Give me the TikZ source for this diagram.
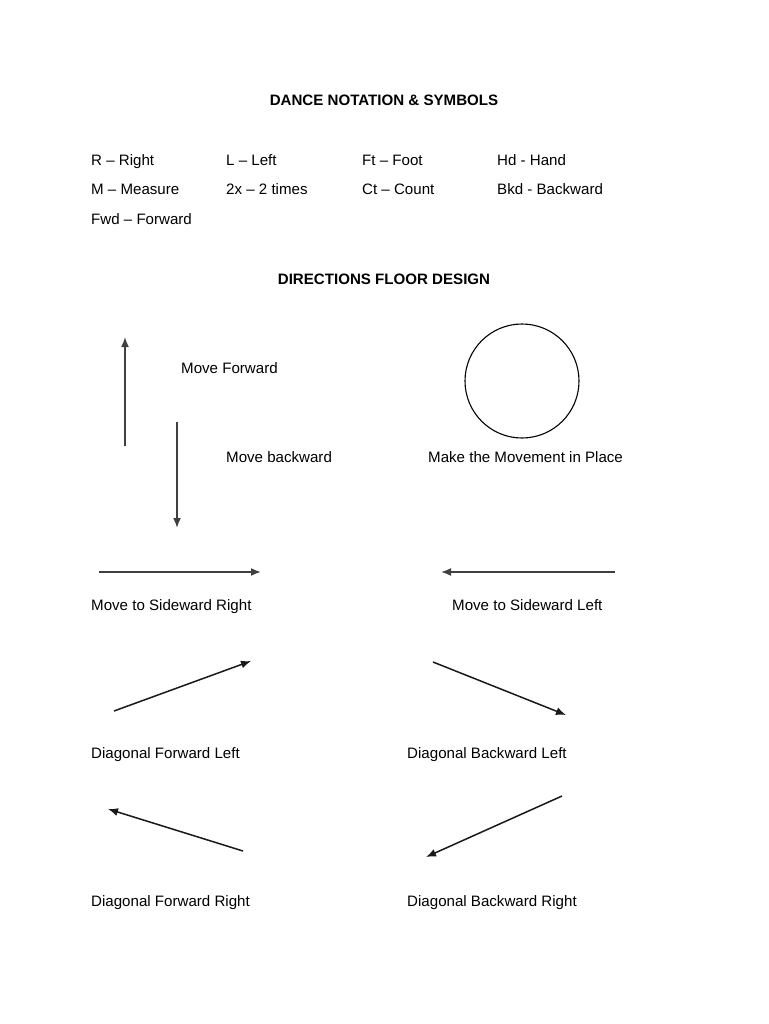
\documentclass[tikz,border=0pt]{standalone}
\usepackage{fontspec}
\setmainfont{Liberation Sans}
\usetikzlibrary{arrows.meta}
\usetikzlibrary{positioning}
\tikzset{
  label text/.style={anchor=base west, inner sep=0pt, font=\fontsize{15.1}{18}\selectfont},
  head text/.style={anchor=base, inner sep=0pt, font=\fontsize{15.1}{18}\selectfont\bfseries},
  move/.style={line width=1.7pt, draw=black!75, -{Latex[length=10pt,width=8pt]}},
  slant/.style={move, line width=1.5pt, draw=black!90},
}
\begin{document}
\begin{tikzpicture}[x=1pt, y=-1pt]
\useasboundingbox[fill=white] (0,0) rectangle (768,1024);
% headings
\node[head text] (title) at (384,106) {DANCE NOTATION \& SYMBOLS};
\node[head text] (floor) at (384,284) {DIRECTIONS FLOOR DESIGN};
% abbreviations
\node[label text] (r) at (91,166) {R -- Right};
\node[label text] (l) at (226,166) {L -- Left};
\node[label text] (ft) at (362,166) {Ft -- Foot};
\node[label text] (hd) at (497,166) {Hd - Hand};
\node[label text] (m) at (91,195) {M -- Measure};
\node[label text] (twox) at (226,195) {2x -- 2 times};
\node[label text] (ct) at (362,195) {Ct -- Count};
\node[label text] (bkd) at (497,195) {Bkd - Backward};
\node[label text] (fwd) at (91,225) {Fwd -- Forward};
% forward / backward
\coordinate (fwdA) at (125,446);
\coordinate (fwdB) at (125,337);
\draw[move] (fwdA) -- (fwdB);
\node[label text] (fwdtxt) at (181,373) {Move Forward};
\coordinate (bkdA) at (177,422);
\coordinate (bkdB) at (177,528);
\draw[move] (bkdA) -- (bkdB);
\node[label text] (bkdtxt) at (226,462) {Move backward};
% in place
\node[draw, circle, line width=1.1pt, minimum size=114pt, inner sep=0pt] (place) at (522,381) {};
\node[label text] (placetxt) at (428,462) {Make the Movement in Place};
% sideward
\coordinate (sideRA) at (99,572);
\coordinate (sideRB) at (261,572);
\draw[move] (sideRA) -- (sideRB);
\node[label text] (sideRtxt) at (91,610) {Move to Sideward Right};
\coordinate (sideLA) at (615,572);
\coordinate (sideLB) at (441,572);
\draw[move] (sideLA) -- (sideLB);
\node[label text] (sideLtxt) at (452,610) {Move to Sideward Left};
% diagonals
\coordinate (dfl1) at (114,711);
\coordinate (dfl2) at (251,661);
\draw[slant] (dfl1) -- (dfl2);
\node[label text] (dfltxt) at (91,758) {Diagonal Forward Left};
\coordinate (dbl1) at (433,662);
\coordinate (dbl2) at (566,715);
\draw[slant] (dbl1) -- (dbl2);
\node[label text] (dbltxt) at (407,758) {Diagonal Backward Left};
\coordinate (dfr1) at (243,851);
\coordinate (dfr2) at (108,809);
\draw[slant] (dfr1) -- (dfr2);
\node[label text] (dfrtxt) at (91,906) {Diagonal Forward Right};
\coordinate (dbr1) at (562,796);
\coordinate (dbr2) at (426,857);
\draw[slant] (dbr1) -- (dbr2);
\node[label text] (dbrtxt) at (407,906) {Diagonal Backward Right};
\end{tikzpicture}
\end{document}
